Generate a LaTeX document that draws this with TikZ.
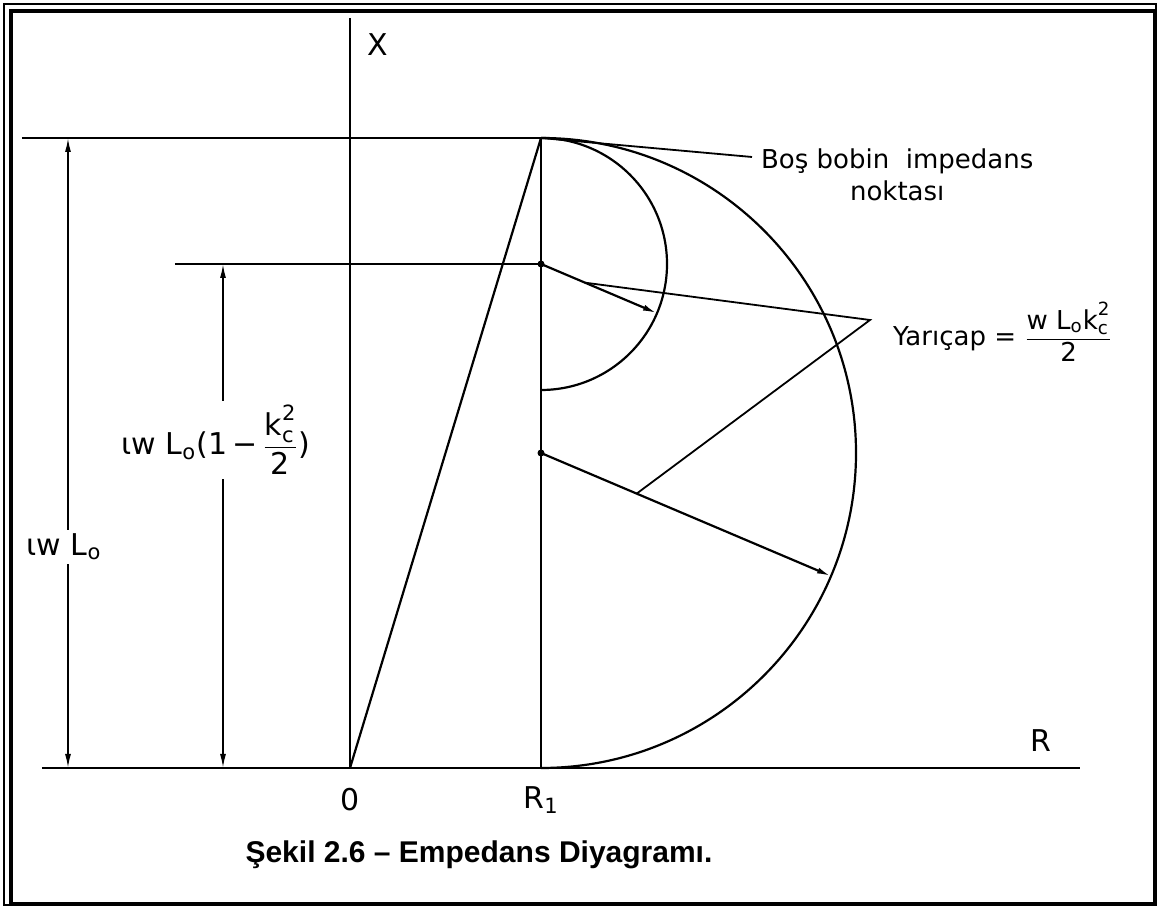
\documentclass[tikz,border=0pt]{standalone}
\usepackage{amsmath}
\usepackage{fontspec}
\setmainfont{DejaVu Sans}
\newfontfamily\capfont{Liberation Sans}
\usetikzlibrary{arrows.meta}
\begin{document}
\begin{tikzpicture}[x=0.5pt,y=0.5pt,line width=1.1pt,
  lbl/.style={inner sep=1pt,font=\fontsize{13}{16}\selectfont},
  axlbl/.style={inner sep=0pt,font=\fontsize{15}{18}\selectfont},
  dimlbl/.style={inner sep=2pt,fill=white,font=\fontsize{15}{18}\selectfont},
  dimarr/.style={{Latex[length=7pt,width=3pt]}-{Latex[length=7pt,width=3pt]},line width=0.8pt},
  radarr/.style={-{Latex[length=7pt,width=3pt]}},
  dot/.style={circle,fill,inner sep=0pt,minimum size=3.5pt}]
\useasboundingbox (-350,-140) rectangle (809,768);
\draw[line width=0.6pt] (-346,-137) rectangle (806,764);
\draw[line width=2pt] (-339,-136) rectangle (805,757);
\coordinate (O) at (0,0);
\coordinate (R1) at (191,0);
\coordinate (P0) at (191,630);
\coordinate (C1) at (191,504);
\coordinate (C2) at (191,315);
\coordinate (Xtop) at (0,750);
\coordinate (Rl) at (-308,0);
\coordinate (Rr) at (730,0);
\coordinate (T1) at (-328,630);
\coordinate (T2) at (-175,504);
\coordinate (D1a) at (-282,0);
\coordinate (D1b) at (-282,630);
\coordinate (D2a) at (-127,0);
\coordinate (D2b) at (-127,504);
\coordinate (A1) at ([shift={(-23:126)}]C1);
\coordinate (A2) at ([shift={(-23:315)}]C2);
\coordinate (B1) at (402,611);
\coordinate (YV) at (520,448);
\draw (Rl) -- (Rr);
\draw (O) -- (Xtop);
\draw (T1) -- (P0);
\draw (T2) -- (C1);
\draw (R1) -- (P0);
\draw (O) -- (P0);
\draw (P0) arc[start angle=90,end angle=-90,radius=126];
\draw (P0) arc[start angle=90,end angle=-90,radius=315];
\draw[dimarr] (D1a) -- (D1b);
\draw[dimarr] (D2a) -- (D2b);
\draw[radarr] (C1) -- (A1) coordinate[pos=0.38] (L1);
\draw[radarr] (C2) -- (A2) coordinate[pos=0.33] (L2);
\node[dot] (c1dot) at (C1) {};
\node[dot] (c2dot) at (C2) {};
\draw[line width=0.9pt] (L1) -- (YV) -- (L2);
\draw[line width=0.9pt] (P0) -- (B1);
\node[dimlbl] (lbl1) at (-286,221) {ιw L\textsubscript{o}};
\node[dimlbl] (lbl2) at (-134,328) {ιw L\textsubscript{o}(1\,−\,$\dfrac{\text{k}^{\text{2}}_{\text{c}}}{\text{2}}$)};
\node[lbl,anchor=west] (yar) at (540,436) {Yarıçap = $\dfrac{\text{w L\textsubscript{o}k}^{\text{2}}_{\text{c}}}{\text{2}}$};
\node[lbl,anchor=west,align=center] (bos) at (408,593) {Boş bobin\ \ impedans\\noktası};
\node[axlbl] (xl) at (28,723) {X};
\node[axlbl] (rl) at (691,27) {R};
\node[axlbl] (ol) at (0,-32) {0};
\node[axlbl] (r1l) at (191,-32) {R\textsubscript{1}};
\node[font=\capfont\fontsize{15}{18}\selectfont\bfseries] (cap) at (129,-87) {Şekil 2.6 – Empedans Diyagramı.};
\end{tikzpicture}
\end{document}
